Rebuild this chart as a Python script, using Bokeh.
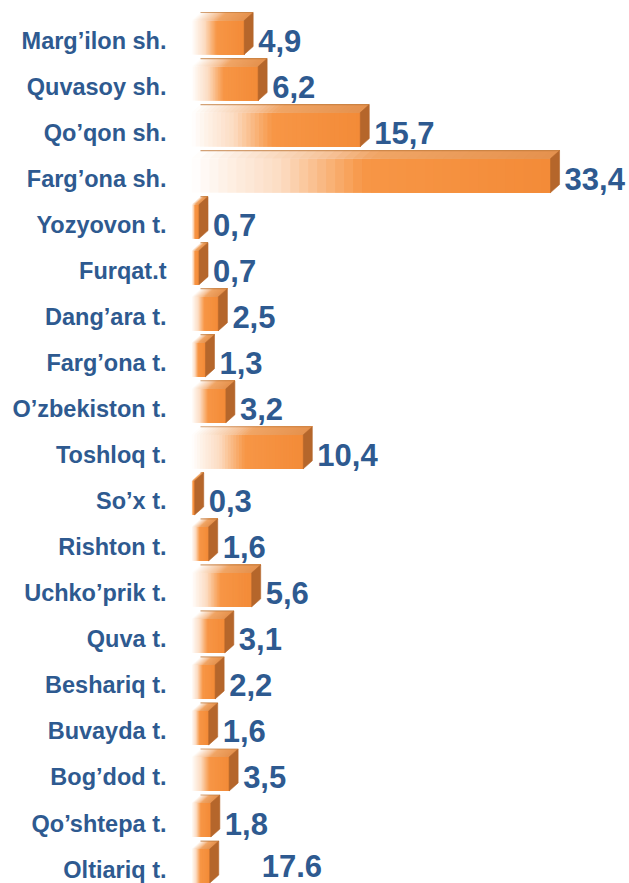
from bokeh.plotting import figure
from bokeh.models import Range1d, FixedTicker, ColumnDataSource
from bokeh.core.properties import value
from bokeh.embed import file_html
from bokeh.resources import INLINE

# ---- data ----
categories = ["Marg’ilon sh.", "Quvasoy sh.", "Qo’qon sh.", "Farg’ona sh.", "Yozyovon t.",
              "Furqat.t", "Dang’ara t.", "Farg’ona t.", "O’zbekiston t.", "Toshloq t.",
              "So’x t.", "Rishton t.", "Uchko’prik t.", "Quva t.", "Beshariq t.",
              "Buvayda t.", "Bog’dod t.", "Qo’shtepa t.", "Oltiariq t."]
values = [4.9, 6.2, 15.7, 33.4, 0.7, 0.7, 2.5, 1.3, 3.2, 10.4,
          0.3, 1.6, 5.6, 3.1, 2.2, 1.6, 3.5, 1.8, 1.7]
value_labels = ["4,9", "6,2", "15,7", "33,4", "0,7", "0,7", "2,5", "1,3", "3,2", "10,4",
                "0,3", "1,6", "5,6", "3,1", "2,2", "1,6", "3,5", "1,8", "17.6"]

# ---- style ----
BLUE = "#2E5A90"
FONT = "Liberation Sans"
W, H = 629, 883
FRAME_LEFT = 191
PX_PER_UNIT = 10.75
ROW_PX = 46.03
FIRST_ROW_PX = 40.5
DX = 9 / PX_PER_UNIT      # depth to the right (data units)
DY = 8 / ROW_PX           # depth upward (row units)
FRONT_TOP = -20.5 / ROW_PX
FRONT_BOT = 13.5 / ROW_PX
label_dx = [14] * len(values)
label_dx[-1] = 52
label_dy = [0] * len(values)
label_dy[-1] = -4

def hex2rgb(h):
    h = h.lstrip("#")
    return tuple(int(h[i:i + 2], 16) for i in (0, 2, 4))

def interp(stops, t):
    for (t0, c0), (t1, c1) in zip(stops, stops[1:]):
        if t <= t1:
            a = (t - t0) / (t1 - t0) if t1 > t0 else 0
            r0, g0, b0 = hex2rgb(c0)
            r1, g1, b1 = hex2rgb(c1)
            return "#%02x%02x%02x" % (round(r0 + (r1 - r0) * a),
                                      round(g0 + (g1 - g0) * a),
                                      round(b0 + (b1 - b0) * a))
    return stops[-1][1]

front_stops = [(0, "#FFFFFF"), (0.08, "#FEF3EA"), (0.25, "#FCDCC2"),
               (0.38, "#F9B47A"), (0.48, "#F79646"), (1, "#F38B38")]
top_stops = [(0, "#FFFFFF"), (0.15, "#FBE6D4"), (0.38, "#F6C196"),
             (0.5, "#F0A566"), (1, "#E5924E")]
SIDE = "#B5662B"

# gradient emulated by layered strips: strip j spans from l_j to the bar end,
# later strips cover earlier ones, so no seams appear
N = 40
fl, fr, ft, fb, fc = [], [], [], [], []
txs, tys, tc = [], [], []
sxs, sys_ = [], []
for j in range(N):
    t = (j + 0.5) / N
    for i, v in enumerate(values):
        top = i + FRONT_TOP
        bot = i + FRONT_BOT
        l = v * j / N
        fl.append(l); fr.append(v); ft.append(top); fb.append(bot)
        fc.append(interp(front_stops, t))
        txs.append([l, v, v + DX, l + DX])
        tys.append([top, top, top - DY, top - DY])
        tc.append(interp(top_stops, t))
for i, v in enumerate(values):
    top = i + FRONT_TOP
    bot = i + FRONT_BOT
    sxs.append([v, v + DX, v + DX, v])
    sys_.append([top, top - DY, bot - DY, bot])

Y_TOP = -FIRST_ROW_PX / ROW_PX
Y_BOT = Y_TOP + H / ROW_PX

p = figure(width=W, height=H, output_backend="svg", toolbar_location=None,
           x_range=Range1d(0, (W - FRAME_LEFT) / PX_PER_UNIT), y_range=Range1d(Y_BOT, Y_TOP),
           x_axis_type=None, min_border_left=FRAME_LEFT, min_border_right=0,
           min_border_top=0, min_border_bottom=0)
p.outline_line_color = None
p.xgrid.visible = False
p.ygrid.visible = False
p.background_fill_color = "white"

p.quad(left="l", right="r", top="t", bottom="b", fill_color="c", line_color=None,
       source=ColumnDataSource(dict(l=fl, r=fr, t=ft, b=fb, c=fc)))
p.patches(xs="xs", ys="ys", fill_color="c", line_color=None,
          source=ColumnDataSource(dict(xs=txs, ys=tys, c=tc)))
p.patches(xs="xs", ys="ys", fill_color=SIDE, line_color=SIDE, line_width=0.6,
          source=ColumnDataSource(dict(xs=sxs, ys=sys_)))
# back top edge
p.segment(x0=[DX] * len(values), x1=[v + DX for v in values],
          y0=[i + FRONT_TOP - DY for i in range(len(values))],
          y1=[i + FRONT_TOP - DY for i in range(len(values))],
          line_color="#C07A3C", line_alpha=0.7, line_width=1.2)

p.text(x=values, y=list(range(len(values))), text=value_labels,
       x_offset=label_dx, y_offset=label_dy, text_font=value(FONT),
       text_font_style="bold", text_font_size="31px", text_color=BLUE,
       text_baseline="middle", text_align="left")

ax = p.yaxis[0]
ax.ticker = FixedTicker(ticks=list(range(len(categories))))
ax.major_label_overrides = {i: c for i, c in enumerate(categories)}
ax.axis_line_color = None
ax.major_tick_line_color = None
ax.minor_tick_line_color = None
ax.major_tick_out = 0
ax.major_tick_in = 0
ax.major_label_standoff = 25
ax.major_label_text_font = FONT
ax.major_label_text_font_style = "bold"
ax.major_label_text_font_size = "23.5px"
ax.major_label_text_color = BLUE

open("out.html", "w").write(file_html(p, INLINE))
